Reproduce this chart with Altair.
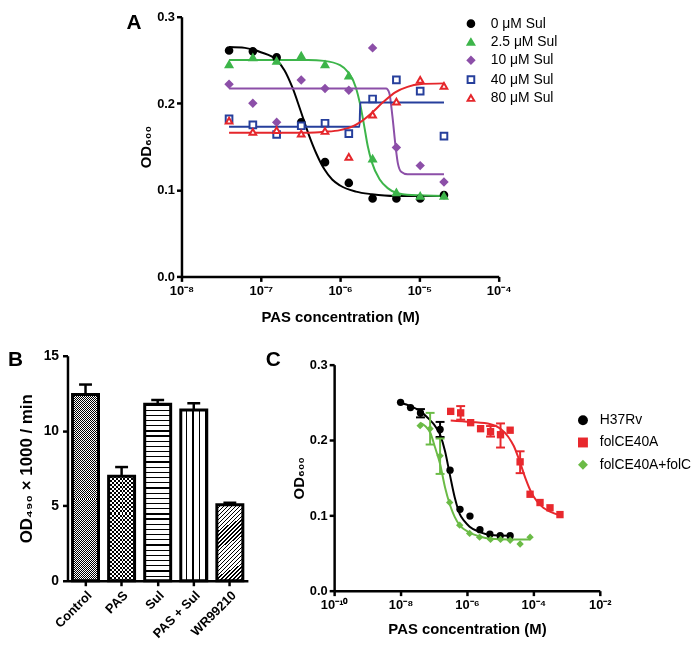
import altair as alt
import pandas as pd

FONT = "Liberation Sans"

# ---------------- Panel A data ----------------
a_log_conc = [-7.40, -7.10, -6.80, -6.49, -6.19, -5.89, -5.59, -5.29, -4.99, -4.69]
a_series = ["0 μM Sul", "2.5 μM Sul", "10 μM Sul", "40 μM Sul", "80 μM Sul"]
a_od_sul0 = [0.261, 0.260, 0.253, 0.178, 0.132, 0.108, 0.090, 0.090, 0.090, 0.094]
a_od_sul2_5 = [0.245, 0.253, 0.249, 0.255, 0.245, 0.232, 0.136, 0.097, 0.093, 0.093]
a_od_sul10 = [0.222, 0.200, 0.178, 0.227, 0.217, 0.215, 0.264, 0.149, 0.128, 0.109]
a_od_sul40 = [0.182, 0.175, 0.164, 0.174, 0.177, 0.165, 0.205, 0.227, 0.214, 0.162]
a_od_sul80 = [0.180, 0.167, 0.169, 0.165, 0.168, 0.138, 0.187, 0.202, 0.227, 0.220]
a_colors = ["#000000", "#3db54a", "#8c4fa8", "#263f9c", "#e5262b"]
a_fills = ["#000000", "#3db54a", "#8c4fa8", "#ffffff", "#ffffff"]
a_shapes = ["circle", "triangle-up", "diamond", "square", "triangle-up"]

# fitted curves (log10 concentration, OD600)
a_fit_sul0_x = [-7.40, -7.20, -7.00, -6.80, -6.70, -6.60, -6.50, -6.40, -6.30, -6.20, -6.10, -6.00, -5.80, -5.60, -5.30, -4.69]
a_fit_sul0_y = [0.265, 0.264, 0.259, 0.250, 0.238, 0.218, 0.192, 0.165, 0.142, 0.124, 0.112, 0.105, 0.098, 0.095, 0.093, 0.093]
a_fit_sul2_5_x = [-7.40, -6.40, -6.20, -6.00, -5.90, -5.80, -5.75, -5.70, -5.65, -5.60, -5.50, -5.40, -5.30, -5.10, -4.69]
a_fit_sul2_5_y = [0.250, 0.250, 0.249, 0.244, 0.236, 0.218, 0.200, 0.176, 0.150, 0.132, 0.112, 0.102, 0.097, 0.094, 0.093]
a_fit_sul10_x = [-7.40, -5.42, -5.38, -5.34, -5.30, -5.27, -5.23, -5.15, -4.69]
a_fit_sul10_y = [0.217, 0.217, 0.212, 0.185, 0.150, 0.130, 0.121, 0.118, 0.118]
a_fit_sul40_x = [-7.40, -5.755, -5.745, -4.69]
a_fit_sul40_y = [0.173, 0.173, 0.201, 0.201]
a_fit_sul80_x = [-7.40, -6.40, -6.20, -6.00, -5.85, -5.75, -5.60, -5.45, -5.30, -5.15, -5.00, -4.69]
a_fit_sul80_y = [0.166, 0.166, 0.167, 0.169, 0.173, 0.178, 0.189, 0.202, 0.213, 0.219, 0.222, 0.223]

a_tick_values = [-8, -7, -6, -5, -4]
a_tick_labels = ["10⁻⁸", "10⁻⁷", "10⁻⁶", "10⁻⁵", "10⁻⁴"]

# ---------------- Panel B data ----------------
b_cats = ["Control", "PAS", "Sul", "PAS + Sul", "WR99210"]
b_vals = [12.42, 6.96, 11.76, 11.39, 5.07]
b_err_top = [13.08, 7.58, 12.05, 11.83, 5.20]

# ---------------- Panel C data ----------------
c_series = ["H37Rv", "folCE40A", "folCE40A+folC"]
c_colors = ["#000000", "#e8282d", "#6bbb46"]
c_shapes = ["circle", "square", "diamond"]
c_h37_x = [-8.00, -7.70, -7.40, -6.81, -6.51, -6.21, -5.91, -5.61, -5.31, -5.00, -4.70]
c_h37_y = [0.250, 0.243, 0.236, 0.214, 0.160, 0.108, 0.099, 0.081, 0.075, 0.073, 0.073]
c_mut_x = [-6.49, -6.19, -5.89, -5.59, -5.29, -4.99, -4.70, -4.40, -4.10, -3.80, -3.50, -3.20]
c_mut_y = [0.238, 0.236, 0.223, 0.215, 0.211, 0.207, 0.213, 0.171, 0.128, 0.117, 0.110, 0.101]
c_comp_x = [-7.41, -7.11, -6.81, -6.52, -6.22, -5.92, -5.62, -5.29, -4.99, -4.70, -4.40, -4.10]
c_comp_y = [0.219, 0.215, 0.179, 0.117, 0.087, 0.076, 0.071, 0.068, 0.068, 0.067, 0.062, 0.071]
# error bars (series, log conc, low, high)
c_err_series = ["H37Rv", "H37Rv", "folCE40A", "folCE40A", "folCE40A", "folCE40A", "folCE40A+folC", "folCE40A+folC"]
c_err_x = [-7.40, -6.81, -6.19, -5.29, -4.99, -4.40, -7.11, -6.81]
c_err_lo = [0.230, 0.204, 0.227, 0.2045, 0.190, 0.156, 0.194, 0.155]
c_err_hi = [0.241, 0.224, 0.245, 0.2185, 0.222, 0.185, 0.236, 0.202]
# fitted curves
c_fit_h37_x = [-8.00, -7.70, -7.40, -7.15, -7.00, -6.81, -6.66, -6.52, -6.37, -6.22, -6.07, -5.92, -5.62, -5.30, -4.70]
c_fit_h37_y = [0.249, 0.245, 0.238, 0.228, 0.221, 0.207, 0.185, 0.155, 0.124, 0.102, 0.092, 0.085, 0.078, 0.074, 0.073]
c_fit_mut_x = [-6.49, -5.89, -5.29, -4.99, -4.77, -4.59, -4.40, -4.23, -4.07, -3.90, -3.70, -3.50, -3.20]
c_fit_mut_y = [0.226, 0.224, 0.221, 0.215, 0.205, 0.192, 0.170, 0.148, 0.131, 0.119, 0.110, 0.105, 0.100]
c_fit_comp_x = [-7.41, -7.11, -6.96, -6.81, -6.66, -6.52, -6.37, -6.22, -5.92, -5.62, -5.30, -4.70, -4.10]
c_fit_comp_y = [0.223, 0.210, 0.190, 0.168, 0.137, 0.115, 0.098, 0.087, 0.077, 0.072, 0.069, 0.068, 0.068]

c_tick_values = [-10, -8, -6, -4, -2]
c_tick_labels = ["10⁻¹⁰", "10⁻⁸", "10⁻⁶", "10⁻⁴", "10⁻²"]


def label_expr(vals, labels):
    expr = "''"
    for v, l in reversed(list(zip(vals, labels))):
        expr = f"datum.value == {v} ? '{l}' : {expr}"
    return expr


def long_df(series_names, xs_list, ys_list, xname, yname):
    rows = []
    for s, xs, ys in zip(series_names, xs_list, ys_list):
        for x, y in zip(xs, ys):
            rows.append({"series": s, xname: x, yname: y})
    return pd.DataFrame(rows)


def text_df(t):
    return pd.DataFrame({"t": [t]})


def blank(w, h):
    return alt.Chart(text_df("")).mark_point(opacity=0).encode(
        x=alt.value(0), y=alt.value(0)).properties(width=w, height=h)


def panel_letter(letter, x, y, align="left", baseline="top"):
    return alt.Chart(text_df(letter)).mark_text(font=FONT, fontSize=21, fontWeight="bold",
                                                align=align, baseline=baseline).encode(
        text="t:N", x=alt.value(x), y=alt.value(y))


# ======================= Panel A =======================
a_pts = long_df(a_series, [a_log_conc] * 5,
                [a_od_sul0, a_od_sul2_5, a_od_sul10, a_od_sul40, a_od_sul80], "logc", "od")
a_fit = long_df(a_series,
                [a_fit_sul0_x, a_fit_sul2_5_x, a_fit_sul10_x, a_fit_sul40_x, a_fit_sul80_x],
                [a_fit_sul0_y, a_fit_sul2_5_y, a_fit_sul10_y, a_fit_sul40_y, a_fit_sul80_y],
                "logc", "od")

a_x = alt.X("logc:Q", scale=alt.Scale(domain=[-8, -4], nice=False, zero=False),
            axis=alt.Axis(values=a_tick_values, labelExpr=label_expr(a_tick_values, a_tick_labels),
                          title="PAS concentration (M)", labelFontSize=13, titleFontSize=15,
                          titlePadding=12, labelPadding=3))
a_y = alt.Y("od:Q", scale=alt.Scale(domain=[0, 0.3], nice=False),
            axis=alt.Axis(values=[0, 0.1, 0.2, 0.3], format=".1f", title="OD₆₀₀",
                          labelFontSize=13, titleFontSize=15, titlePadding=3, labelPadding=2))

a_legend = alt.Legend(orient="none", legendX=285, legendY=0, title=None, labelFont=FONT,
                      labelFontSize=14, labelColor="black", rowPadding=3.5, labelOffset=13,
                      symbolStrokeWidth=2, symbolSize=45)

a_lines = [
    alt.Chart(a_fit).transform_filter(alt.datum.series == s)
    .mark_line(strokeWidth=2, interpolate="monotone", color=col).encode(x=a_x, y=a_y)
    for s, col in zip(a_series, a_colors)
]
a_points = alt.Chart(a_pts).mark_point(size=45, strokeWidth=2, opacity=1).encode(
    x=a_x, y=a_y,
    shape=alt.Shape("series:N", scale=alt.Scale(domain=a_series, range=a_shapes), legend=a_legend),
    fill=alt.Fill("series:N", scale=alt.Scale(domain=a_series, range=a_fills), legend=a_legend),
    stroke=alt.Stroke("series:N", scale=alt.Scale(domain=a_series, range=a_colors), legend=a_legend),
)

panel_a = alt.layer(*a_lines, a_points, panel_letter("A", -48, -5, align="center")).properties(
    width=320, height=262)

# ======================= Panel B =======================
b_df = pd.DataFrame({"cat": b_cats, "val": b_vals, "err": b_err_top})

b_x = alt.X("cat:N", sort=b_cats,
            scale=alt.Scale(domain=b_cats, paddingInner=0.28, paddingOuter=0.14),
            axis=alt.Axis(title=None, labelAngle=-45, labelFontSize=13, labelPadding=3))
b_y = alt.Y("val:Q", scale=alt.Scale(domain=[0, 15], nice=False),
            axis=alt.Axis(values=[0, 5, 10, 15], title="OD₄₉₀ × 1000 / min", labelFontSize=14,
                          titleFontSize=17, titlePadding=8, labelPadding=4))


def stripes(n, duty, x2, y2, c_line="black", c_bg="white", line_first=True):
    stops = []
    for k in range(n):
        a = k / n
        b = (k + duty) / n if line_first else (k + 1 - duty) / n
        c = (k + 1) / n
        first, second = (c_line, c_bg) if line_first else (c_bg, c_line)
        stops += [{"offset": a, "color": first}, {"offset": b, "color": first},
                  {"offset": b, "color": second}, {"offset": c, "color": second}]
    return {"gradient": "linear", "x1": 0, "y1": 0, "x2": x2, "y2": y2, "stops": stops}


def bar_layer(cat, fill, blend=None):
    kw = {"fill": fill}
    if blend:
        kw["blend"] = blend
    return alt.Chart(b_df).transform_filter(alt.datum.cat == cat).mark_bar(**kw).encode(x=b_x, y=b_y)


b_layers = [
    bar_layer("Control", stripes(94, 0.5, 0, 1)),
    bar_layer("Control", stripes(13, 0.5, 1, 0, c_line="white", c_bg="black"), blend="difference"),
    bar_layer("PAS", stripes(26, 0.5, 0, 1)),
    bar_layer("PAS", stripes(7, 0.5, 1, 0, c_line="white", c_bg="black"), blend="difference"),
    bar_layer("Sul", stripes(34, 0.24, 0, 1)),
    bar_layer("PAS + Sul", stripes(4, 0.25, 1, 0, line_first=False)),
    bar_layer("WR99210", stripes(26, 0.35, 0.406, 1.201)),
]
b_outline = alt.Chart(b_df).mark_bar(fillOpacity=0, stroke="black", strokeWidth=3).encode(x=b_x, y=b_y)
b_rule = alt.Chart(b_df).mark_rule(color="black", strokeWidth=2.5).encode(x=b_x, y="val:Q", y2="err:Q")
b_cap = alt.Chart(b_df).mark_tick(color="black", thickness=2.5, size=13, opacity=1).encode(
    x=b_x, y=alt.Y("err:Q"))

# the "C" panel letter sits in the gap between the panels, so it is drawn with panel B
panel_b = alt.layer(*b_layers, b_outline, b_rule, b_cap,
                    panel_letter("B", -60, -7), panel_letter("C", 200, -7)).properties(width=182, height=227)

# ======================= Panel C =======================
c_pts = long_df(c_series, [c_h37_x, c_mut_x, c_comp_x], [c_h37_y, c_mut_y, c_comp_y], "logc", "od")
c_fit = long_df(c_series, [c_fit_h37_x, c_fit_mut_x, c_fit_comp_x],
                [c_fit_h37_y, c_fit_mut_y, c_fit_comp_y], "logc", "od")
c_err = pd.DataFrame({"series": c_err_series, "logc": c_err_x, "lo": c_err_lo, "hi": c_err_hi})

c_x = alt.X("logc:Q", scale=alt.Scale(domain=[-10, -2], nice=False, zero=False),
            axis=alt.Axis(values=c_tick_values, labelExpr=label_expr(c_tick_values, c_tick_labels),
                          title="PAS concentration (M)", labelFontSize=13, titleFontSize=15,
                          titlePadding=10, labelPadding=3))
c_y = alt.Y("od:Q", scale=alt.Scale(domain=[0, 0.3], nice=False),
            axis=alt.Axis(values=[0, 0.1, 0.2, 0.3], format=".1f", title="OD₆₀₀",
                          labelFontSize=13, titleFontSize=15, titlePadding=3, labelPadding=2))

c_legend = alt.Legend(orient="none", legendX=244, legendY=49, title=None, labelFont=FONT,
                      labelFontSize=14, labelColor="black", rowPadding=8.5, labelOffset=10)

c_layers = []
for s, col in zip(c_series, c_colors):
    c_layers.append(alt.Chart(c_fit).transform_filter(alt.datum.series == s)
                    .mark_line(strokeWidth=2, interpolate="monotone", color=col).encode(x=c_x, y=c_y))
    c_layers.append(alt.Chart(c_err).transform_filter(alt.datum.series == s)
                    .mark_rule(strokeWidth=2, color=col).encode(x=c_x, y=alt.Y("lo:Q"), y2="hi:Q"))
    for f in ["hi", "lo"]:
        c_layers.append(alt.Chart(c_err).transform_filter(alt.datum.series == s)
                        .mark_tick(orient="horizontal", size=9, thickness=2, opacity=1, color=col)
                        .encode(x=c_x, y=alt.Y(f + ":Q")))

c_points = alt.Chart(c_pts).mark_point(filled=True, size=55, opacity=1).encode(
    x=c_x, y=c_y,
    shape=alt.Shape("series:N", scale=alt.Scale(domain=c_series, range=c_shapes), legend=c_legend),
    color=alt.Color("series:N", scale=alt.Scale(domain=c_series, range=c_colors), legend=c_legend),
)

panel_c = alt.layer(*c_layers, c_points).properties(width=268, height=228)

# ======================= Layout =======================
indep = dict(color="independent", shape="independent", fill="independent", stroke="independent")

top = alt.hconcat(blank(59, 10), panel_a, spacing=0).resolve_scale(**indep)
c_col = alt.vconcat(blank(268, 1), panel_c, spacing=0).resolve_scale(**indep)
bottom = alt.hconcat(panel_b, c_col, spacing=9).resolve_scale(**indep)

chart = alt.vconcat(top, bottom, spacing=25, padding=0).resolve_scale(**indep).configure_axis(
    domainWidth=2.5, domainColor="black", tickWidth=2.5, tickColor="black", tickSize=5,
    labelFont=FONT, labelFontWeight="bold", labelColor="black", titleFont=FONT,
    titleFontWeight="bold", titleColor="black", grid=False, labelFlush=False, labelOverlap=False,
).configure_view(stroke=None).configure_legend(labelFont=FONT)

chart.save("out.html", embed_options={"renderer": "svg", "actions": False})
